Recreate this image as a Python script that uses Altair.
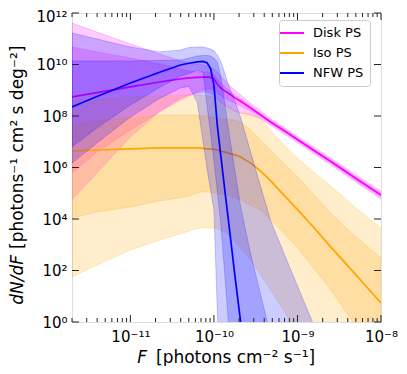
import altair as alt
import numpy as np
import pandas as pd

# ---------------- data (log10 values) ----------------
LOGF = [-11.7, -11.4, -11.0, -10.65, -10.4, -10.3, -10.2, -10.13, -10.08, -10.04,
        -10.0, -9.96, -9.92, -9.87, -9.83, -9.75, -9.68, -9.56, -9.44, -9.32,
        -9.14, -8.96, -8.82, -8.6, -8.3, -8.0]

disk_med = [8.74, 8.91, 9.13, 9.32, 9.44, 9.48, 9.50, 9.51, 9.51, 9.50, 9.44, 9.24, 9.09,
            8.97, 8.89, 8.71, 8.57, 8.31, 8.04, 7.77, 7.39, 7.00, 6.70, 6.23, 5.57, 4.93]
disk_hi95 = [11.61, 11.26, 10.80, 10.41, 10.14, 10.06, 10.02, 9.98, 9.94, 9.90, 9.83, 9.71, 9.55,
             9.40, 9.24, 9.01, 8.82, 8.50, 8.19, 7.89, 7.51, 7.12, 6.83, 6.36, 5.71, 5.08]
disk_hi68 = [10.68, 10.49, 10.25, 10.02, 9.83, 9.75, 9.71, 9.71, 9.71, 9.67, 9.59, 9.44, 9.28,
             9.13, 9.01, 8.82, 8.66, 8.39, 8.10, 7.83, 7.45, 7.06, 6.76, 6.29, 5.64, 5.00]
disk_lo68 = [5.79, 6.60, 7.46, 8.16, 8.62, 8.78, 8.93, 9.01, 9.05, 9.05, 9.01, 8.89, 8.78,
             8.70, 8.62, 8.50, 8.39, 8.19, 7.98, 7.71, 7.33, 6.94, 6.64, 6.17, 5.50, 4.86]
disk_lo95 = [4.74, 5.79, 7.18, 8.19, 8.70, 8.82, 8.89, 8.93, 8.93, 8.89, 8.82, 8.66, 8.54,
             8.43, 8.35, 8.19, 8.12, 8.04, 7.89, 7.64, 7.26, 6.87, 6.57, 6.10, 5.43, 4.78]

iso_med = [6.64, 6.68, 6.72, 6.76, 6.76, 6.76, 6.76, 6.74, 6.72, 6.72, 6.70, 6.68, 6.64,
           6.60, 6.56, 6.49, 6.41, 6.17, 5.86, 5.48, 4.85, 4.23, 3.73, 2.91, 1.83, 0.74]
iso_hi95 = [8.62, 8.66, 8.74, 8.78, 8.82, 8.82, 8.82, 8.80, 8.78, 8.76, 8.74, 8.66, 8.54,
            8.43, 8.35, 8.19, 8.12, 8.08, 7.92, 7.42, 6.80, 6.25, 5.86, 5.28, 4.43, 3.65]
iso_hi68 = [7.65, 7.81, 7.92, 8.04, 8.04, 8.04, 8.02, 8.00, 7.98, 7.96, 7.94, 7.92, 7.90,
            7.88, 7.86, 7.84, 7.77, 7.46, 7.07, 6.68, 6.10, 5.51, 5.01, 4.23, 3.30, 2.49]
iso_lo68 = [4.04, 4.27, 4.47, 4.70, 4.83, 4.89, 5.01, 5.05, 5.05, 5.03, 5.01, 4.99, 4.97,
            4.95, 4.93, 4.82, 4.74, 4.54, 4.35, 3.96, 3.38, 2.72, 2.14, 1.24, -0.16, -1.28]
iso_lo95 = [1.75, 2.21, 2.80, 3.18, 3.42, 3.53, 3.63, 3.65, 3.65, 3.65, 3.65, 3.61, 3.57,
            3.50, 3.42, 3.15, 2.87, 2.41, 1.83, 1.24, 0.31, -0.51, -1.09, -2.06, -3.4, -4.6]

NFW_LOGF = LOGF[:24]
nfw_med = [8.35, 8.76, 9.28, 9.70, 9.98, 10.05, 10.10, 10.12, 10.06, 9.84, 9.20, 7.65,
           6.52, 5.13, 4.04, 1.83, 0.00, -3.3, -4, -4, -4, -4, -4, -4]
nfw_hi95 = [11.22, 10.99, 10.68, 10.49, 10.56, 10.66, 10.68, 10.68, 10.64, 10.60, 10.54, 10.37,
            10.14, 9.67, 9.24, 8.58, 7.94, 6.60, 5.25, 3.92, 2.50, 1.09, 0.00, -1.86]
nfw_hi68 = [10.14, 10.14, 10.14, 10.16, 10.17, 10.25, 10.33, 10.35, 10.35, 10.33, 10.25, 10.10,
            9.59, 8.50, 7.57, 5.90, 4.47, 2.64, 1.05, -0.54, -4, -4, -4, -4]
nfw_lo68 = [6.80, 7.53, 8.43, 9.11, 9.55, 9.65, 9.77, 9.71, 8.31, 7.34, 6.25, 5.09,
            3.88, 1.83, 0.16, -3.0, -4, -4, -4, -4, -4, -4, -4, -4]
nfw_lo95 = [6.17, 6.95, 7.96, 8.68, 9.09, 9.15, 8.54, 7.01, 5.90, 5.13, 4.35, 0.47,
            -3.0, -4, -4, -4, -4, -4, -4, -4, -4, -4, -4, -4]

SERIES = ["Disk PS", "Iso PS", "NFW PS"]
COLORS = ["#ff00ff", "#ffa500", "#0000ff"]

X_MAJOR = [1e-11, 1e-10, 1e-9, 1e-8]
X_MINOR = [k * 10.0 ** e for e in (-12, -11, -10, -9) for k in range(2, 10)
           if 2e-12 <= k * 10.0 ** e <= 1e-8]
Y_MAJOR = [1, 1e2, 1e4, 1e6, 1e8, 1e10, 1e12]

# ---------------- helpers ----------------
SUP = {"-": "\u207b", "0": "\u2070", "1": "\u00b9", "2": "\u00b2", "3": "\u00b3",
       "4": "\u2074", "5": "\u2075", "6": "\u2076", "7": "\u2077", "8": "\u2078", "9": "\u2079"}


def sup(n):
    return "".join(SUP[c] for c in str(n))


def label_expr(exps):
    expr = "''"
    for e in exps:
        expr = f"round(log(datum.value)/LN10) == {e} ? '10{sup(e)}' : ({expr})"
    return expr


def frame(name, logf, lo95, lo68, med, hi68, hi95):
    p = lambda a: 10.0 ** np.array(a, dtype=float)
    return pd.DataFrame({"F": p(logf), "lo95": p(lo95), "lo68": p(lo68), "med": p(med),
                         "hi68": p(hi68), "hi95": p(hi95), "series": name})


W, H = 309, 309
FONT = "DejaVu Sans"
x_scale = alt.Scale(type="log", domain=[2e-12, 1e-8], nice=False)
y_scale = alt.Scale(type="log", domain=[1, 1e12], nice=False)

x_axis = alt.Axis(values=X_MAJOR, labelExpr=label_expr([-11, -10, -9, -8]), ticks=False,
                  domain=False, grid=False, title=None, labelFontSize=15, labelFont=FONT,
                  labelColor="black", labelPadding=7, labelFlush=False, labelOverlap=False)
y_axis = alt.Axis(values=Y_MAJOR, labelExpr=label_expr([0, 2, 4, 6, 8, 10, 12]), ticks=False,
                  domain=False, grid=False, title=None, labelFontSize=15, labelFont=FONT,
                  labelColor="black", labelPadding=5, labelFlush=False, labelOverlap=False,
                  labelOffset={"condition": {"test": "datum.value > 1e11", "value": 3},
                               "value": 0})

legend = alt.Legend(title=None, orient="none", legendX=207, legendY=7,
                    symbolType="M-2,0L2,0", symbolSize=144, symbolStrokeWidth=2,
                    labelFontSize=13, labelFont=FONT, labelColor="black", padding=6,
                    rowPadding=6, labelOffset=14, fillColor="white", strokeColor="#cccccc",
                    cornerRadius=3)
color = alt.Color("series:N", scale=alt.Scale(domain=SERIES, range=COLORS), legend=legend)

layers = []
datasets = [
    frame("Disk PS", LOGF, disk_lo95, disk_lo68, disk_med, disk_hi68, disk_hi95),
    frame("Iso PS", LOGF, iso_lo95, iso_lo68, iso_med, iso_hi68, iso_hi95),
    frame("NFW PS", NFW_LOGF, nfw_lo95, nfw_lo68, nfw_med, nfw_hi68, nfw_hi95),
]
for df, c in zip(datasets, COLORS):
    base = alt.Chart(df)
    for lo, hi in (("lo95", "hi95"), ("lo68", "hi68")):
        layers.append(base.mark_area(color=c, fillOpacity=0.2, stroke=c, strokeOpacity=0.2,
                                     strokeWidth=1, clip=True).encode(
            x=alt.X("F:Q", scale=x_scale, axis=x_axis),
            y=alt.Y(f"{lo}:Q", scale=y_scale, axis=y_axis),
            y2=alt.Y2(f"{hi}:Q")))
    layers.append(base.mark_line(strokeWidth=1.7, clip=True).encode(
        x=alt.X("F:Q", scale=x_scale, axis=x_axis),
        y=alt.Y("med:Q", scale=y_scale, axis=y_axis),
        color=color))

# inward ticks on all four sides
TICK = "#222222"
xmaj = alt.Chart(pd.DataFrame({"v": X_MAJOR}))
xmin = alt.Chart(pd.DataFrame({"v": X_MINOR}))
ymaj = alt.Chart(pd.DataFrame({"v": Y_MAJOR}))
xenc = dict(x=alt.X("v:Q", scale=x_scale, axis=x_axis))
yenc = dict(y=alt.Y("v:Q", scale=y_scale, axis=y_axis))
for ch, ln in ((xmaj, 7), (xmin, 4)):
    layers.append(ch.mark_rule(color=TICK, strokeWidth=1).encode(
        **xenc, y=alt.value(H), y2=alt.value(H - ln)))
    layers.append(ch.mark_rule(color=TICK, strokeWidth=1).encode(
        **xenc, y=alt.value(0), y2=alt.value(ln)))
layers.append(ymaj.mark_rule(color=TICK, strokeWidth=1).encode(
    **yenc, x=alt.value(0), x2=alt.value(7)))
layers.append(ymaj.mark_rule(color=TICK, strokeWidth=1).encode(
    **yenc, x=alt.value(W), x2=alt.value(W - 7)))

# axis titles (italic symbols + normal units)
layers.append(alt.Chart().mark_text(text="F", font=FONT, fontSize=17, fontStyle="italic",
                                    align="right", baseline="alphabetic", color="black").encode(
    x=alt.value(75), y=alt.value(350)))
layers.append(alt.Chart().mark_text(text="[photons cm\u207b\u00b2 s\u207b\u00b9]", font=FONT,
                                    fontSize=17, align="left", baseline="alphabetic",
                                    color="black").encode(x=alt.value(84), y=alt.value(350)))
layers.append(alt.Chart().mark_text(text="dN/dF", font=FONT, fontSize=17, fontStyle="italic",
                                    angle=270, align="right", baseline="alphabetic",
                                    color="black").encode(x=alt.value(-49), y=alt.value(242)))
layers.append(alt.Chart().mark_text(text="[photons\u207b\u00b9 cm\u00b2 s deg\u207b\u00b2]",
                                    font=FONT, fontSize=17, angle=270, align="left",
                                    baseline="alphabetic", color="black").encode(
    x=alt.value(-49), y=alt.value(236)))

chart = alt.layer(*layers).properties(
    width=W, height=H,
    autosize=alt.AutoSizeParams(type="none"),
    padding={"left": 64, "top": 5, "right": 18, "bottom": 44},
).configure_view(stroke="#222222", strokeWidth=1).configure(font=FONT)

chart.save("out.html", embed_options={"renderer": "svg", "actions": False})
